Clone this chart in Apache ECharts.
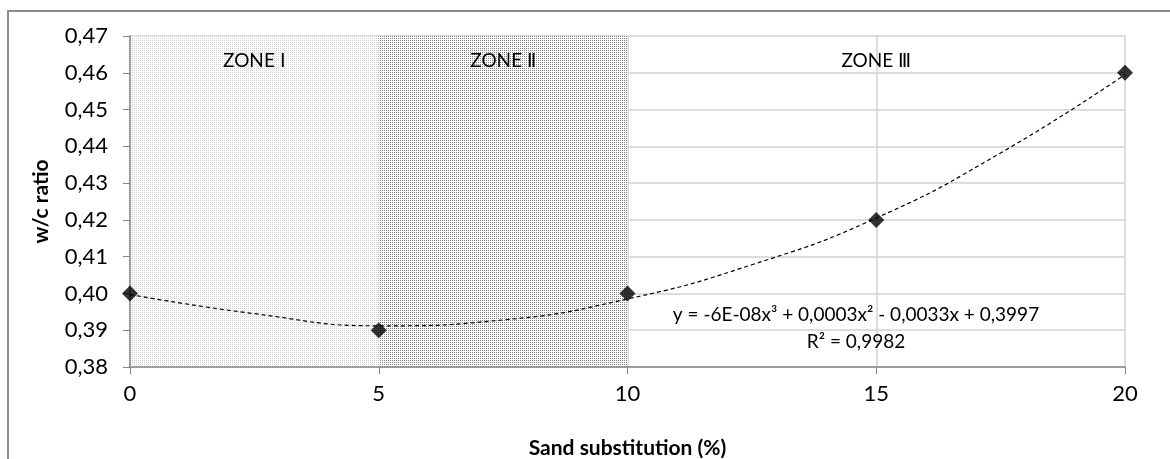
<!DOCTYPE html>
<html>
<head>
<meta charset="utf-8">
<script src="https://cdn.jsdelivr.net/npm/echarts@6/dist/echarts.min.js"></script>
<style>
  html, body { margin: 0; padding: 0; background: #fff; }
  #chart { width: 1170px; height: 459px; }
</style>
</head>
<body>
<div id="chart"></div>
<script>
var substitution = [0, 5, 10, 15, 20];
var wcRatio = [0.40, 0.39, 0.40, 0.42, 0.46];

// trendline
var trendX = [0, 2.5, 5, 7.5, 10, 12.5, 15, 17.5, 20];
var trendY = [0.3997, 0.3945, 0.3912, 0.3928, 0.3985, 0.4078, 0.4205, 0.4382, 0.4595];

var zones = [
    {name: 'ZONE Ⅰ', from: 0, to: 5},
    {name: 'ZONE Ⅱ', from: 5, to: 10},
    {name: 'ZONE Ⅲ', from: 10, to: 20}
];
var equation = 'y = -6E-08x³ + 0,0003x² - 0,0033x + 0,3997';
var rSquared = 'R² = 0,9982';

function dots(size, dot, pts) {
    var c = document.createElement('canvas');
    c.width = size; c.height = size;
    var ctx = c.getContext('2d');
    ctx.fillStyle = '#fff';
    ctx.fillRect(0, 0, size, size);
    ctx.fillStyle = dot;
    pts.forEach(function (p) { ctx.fillRect(p[0], p[1], 1, 1); });
    return c;
}
var lightPattern = dots(2, '#d0d0d0', [[0, 0]]);
var darkPattern = dots(2, '#808080', [[0, 0]]);
var fills = [
    {image: lightPattern, repeat: 'repeat'},
    {image: darkPattern, repeat: 'repeat'},
    'rgba(0,0,0,0)'
];

var font = 'Lato';
var chart = echarts.init(document.getElementById('chart'));
var option = {
    animation: false,
    grid: {left: 130, right: 45, top: 36, bottom: 92, outerBoundsMode: 'none', containLabel: false},
    graphic: [
        {type: 'polyline', shape: {points: [[8, 459], [8, 11], [1170, 11]]},
            style: {stroke: '#8c8c8c', lineWidth: 2, fill: null}, z: 100},
        {type: 'text', style: {x: 856, y: 315, text: equation, font: '19px ' + font, fill: '#000',
            textAlign: 'center', textVerticalAlign: 'middle'}, z: 100},
        {type: 'text', style: {x: 856, y: 342, text: rSquared, font: '19px ' + font, fill: '#000',
            textAlign: 'center', textVerticalAlign: 'middle'}, z: 100}
    ],
    xAxis: {
        type: 'value', min: 0, max: 20, interval: 5,
        name: 'Sand substitution (%)', nameLocation: 'middle', nameGap: 71,
        nameTextStyle: {fontFamily: font, fontWeight: 'bold', fontSize: 21, color: '#000'},
        axisLine: {lineStyle: {color: '#868686', width: 1.5}},
        axisTick: {show: true, length: 7, lineStyle: {color: '#868686'}},
        axisLabel: {fontFamily: font, fontSize: 22, color: '#000', margin: 16},
        splitLine: {show: true, lineStyle: {color: '#d0d0d0', width: 1.5}}
    },
    yAxis: {
        type: 'value', min: 0.38, max: 0.47, interval: 0.01,
        name: 'w/c ratio', nameLocation: 'middle', nameGap: 78,
        nameTextStyle: {fontFamily: font, fontWeight: 'bold', fontSize: 21, color: '#000'},
        axisLine: {show: true, lineStyle: {color: '#868686', width: 1.5}},
        axisTick: {show: true, length: 7, lineStyle: {color: '#868686'}},
        axisLabel: {fontFamily: font, fontSize: 22, color: '#000', margin: 22,
            formatter: function (v) { return v.toFixed(2).replace('.', ','); }},
        splitLine: {show: true, lineStyle: {color: '#d0d0d0', width: 1.5}}
    },
    series: [
        {
            type: 'line',
            data: trendX.map(function (x, i) { return [x, trendY[i]]; }),
            smooth: true,
            showSymbol: false,
            lineStyle: {color: '#000', width: 1.2, type: [4, 3]},
            z: 3,
            markArea: {
                silent: true,
                z: 0,
                label: {position: 'insideTop', distance: 15, fontFamily: font, fontSize: 19, color: '#000'},
                data: zones.map(function (z, i) {
                    return [{name: z.name, xAxis: z.from, itemStyle: {color: fills[i]}}, {xAxis: z.to}];
                })
            }
        },
        {
            type: 'scatter',
            data: substitution.map(function (x, i) { return [x, wcRatio[i]]; }),
            symbol: 'diamond',
            symbolSize: 16,
            itemStyle: {color: '#000'},
            z: 4
        }
    ]
};
chart.setOption(option);
</script>
</body>
</html>
